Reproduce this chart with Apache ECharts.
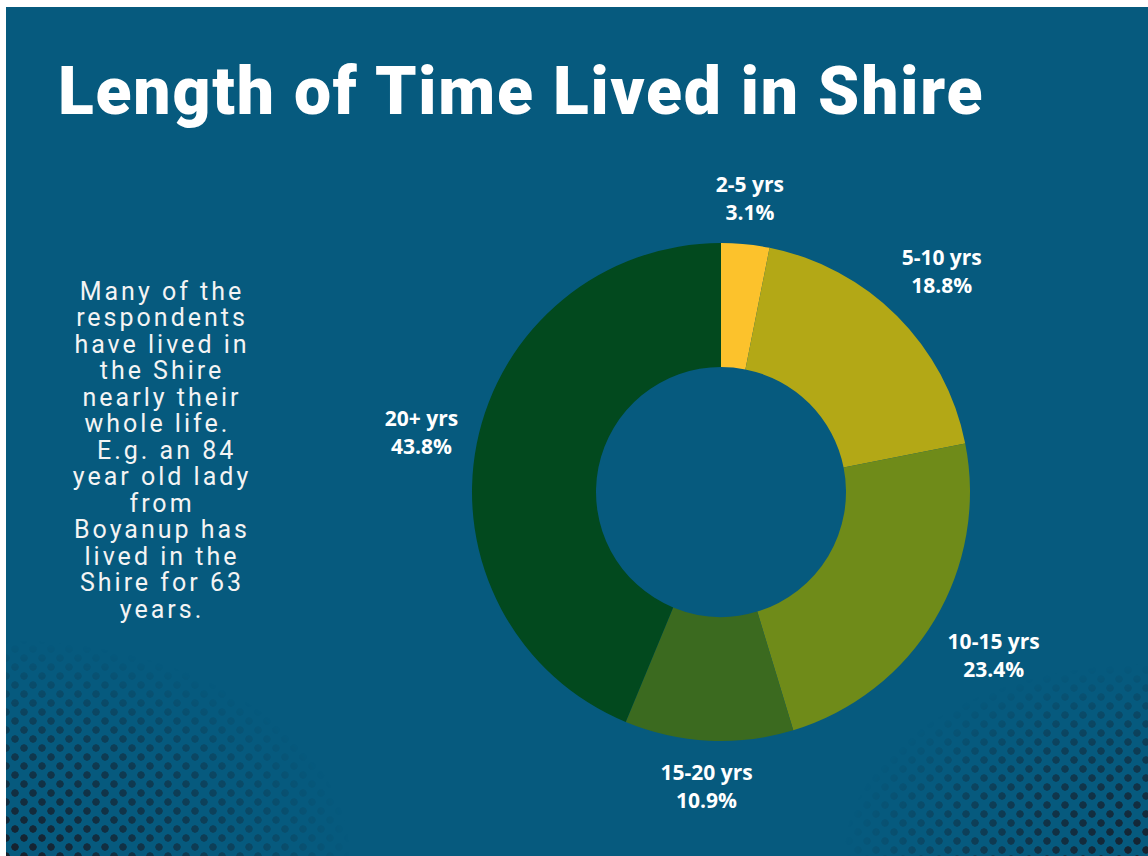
<!DOCTYPE html>
<html>
<head>
<meta charset="utf-8">
<title>Length of Time Lived in Shire</title>
<script src="https://cdn.jsdelivr.net/npm/echarts@6/dist/echarts.min.js"></script>
<style>
  html, body { margin: 0; padding: 0; background: #ffffff; }
  #wrap { position: absolute; left: 6px; top: 7px; width: 1142px; height: 849px; overflow: hidden; }
  #chart { position: absolute; left: 0; top: 0; width: 1142px; height: 849px; }
  /* tracking for the two text blocks (svg renderer) */
  #chart text[style*="25px"] { letter-spacing: 3px; }
  #chart text[style*="66px"] { letter-spacing: 1.8px; }
  /* halftone dots in the bottom corners, decoration only */
  .dots {
    position: absolute; pointer-events: none;
    background-image:
      radial-gradient(circle, #17202c 3.4px, transparent 4px),
      radial-gradient(circle, #17202c 3.4px, transparent 4px);
    background-size: 18px 18px;
    background-position: 0 0, 9px 9px;
  }
  .dots.left {
    left: 0; bottom: 0; width: 430px; height: 270px;
    -webkit-mask-image: radial-gradient(ellipse 100% 100% at 0% 100%, rgba(0,0,0,1) 0%, rgba(0,0,0,0.5) 45%, transparent 80%);
    mask-image: radial-gradient(ellipse 100% 100% at 0% 100%, rgba(0,0,0,1) 0%, rgba(0,0,0,0.5) 45%, transparent 80%);
  }
  .dots.right {
    right: 0; bottom: 0; width: 380px; height: 240px;
    -webkit-mask-image: radial-gradient(ellipse 100% 100% at 100% 100%, rgba(0,0,0,1) 0%, rgba(0,0,0,0.5) 45%, transparent 80%);
    mask-image: radial-gradient(ellipse 100% 100% at 100% 100%, rgba(0,0,0,1) 0%, rgba(0,0,0,0.5) 45%, transparent 80%);
  }
</style>
</head>
<body>
<div id="wrap">
  <div id="chart"></div>
  <div class="dots left"></div>
  <div class="dots right"></div>
</div>
<script>
// respondents per group (64 in total)
var categories = ['2-5 yrs', '5-10 yrs', '10-15 yrs', '15-20 yrs', '20+ yrs'];
var counts = [2, 12, 15, 7, 28];
var sliceColors = ['#fcc22c', '#b3a816', '#6f8b19', '#3b6a1f', '#02491e'];

var titleText = 'Length of Time Lived in Shire';
var noteLines = [
  'Many of the',
  'respondents',
  'have lived in',
  'the Shire',
  'nearly their',
  'whole life. ',
  ' E.g. an 84',
  'year old lady',
  'from',
  'Boyanup has',
  'lived in the',
  'Shire for 63',
  'years.'
];

var cx = 715, cy = 485;
var chart = echarts.init(document.getElementById('chart'), null, { renderer: 'svg' });

chart.setOption({
  backgroundColor: '#065a7e',
  animation: false,
  graphic: [
    {
      type: 'text',
      x: 52,
      y: 84,
      style: {
        text: titleText,
        font: '900 66px Roboto',
        fill: '#ffffff',
        textAlign: 'left',
        textVerticalAlign: 'middle'
      }
    },
    {
      type: 'text',
      x: 156,
      y: 271,
      style: {
        text: noteLines.join('\n'),
        font: '25px Roboto',
        lineHeight: 26.5,
        fill: '#f4f4f4',
        textAlign: 'center',
        textVerticalAlign: 'top'
      }
    }
  ],
  series: [
    {
      type: 'pie',
      center: [cx, cy],
      radius: [125, 249],
      startAngle: 90,
      clockwise: true,
      percentPrecision: 1,
      avoidLabelOverlap: false,
      silent: true,
      data: categories.map(function (c, i) {
        return { name: c, value: counts[i], itemStyle: { color: sliceColors[i] } };
      }),
      label: {
        show: true,
        position: 'inside',
        formatter: '{b}\n{d}%',
        color: '#ffffff',
        fontFamily: 'Open Sans',
        fontWeight: 'bold',
        fontSize: 21,
        lineHeight: 28
      },
      labelLine: { show: false },
      // move the centred labels out along their slice's middle ray
      labelLayout: function (p) {
        var r = p.labelRect;
        var mx = r.x + r.width / 2, my = r.y + r.height / 2;
        var dx = mx - cx, dy = my - cy;
        var len = Math.sqrt(dx * dx + dy * dy) || 1;
        var ux = dx / len, uy = dy / len;
        var R = 264 + Math.abs(ux) * r.width / 2 + Math.abs(uy) * r.height / 2;
        return { x: cx + ux * R, y: cy + uy * R, align: 'center', verticalAlign: 'middle' };
      }
    }
  ]
});
</script>
</body>
</html>
